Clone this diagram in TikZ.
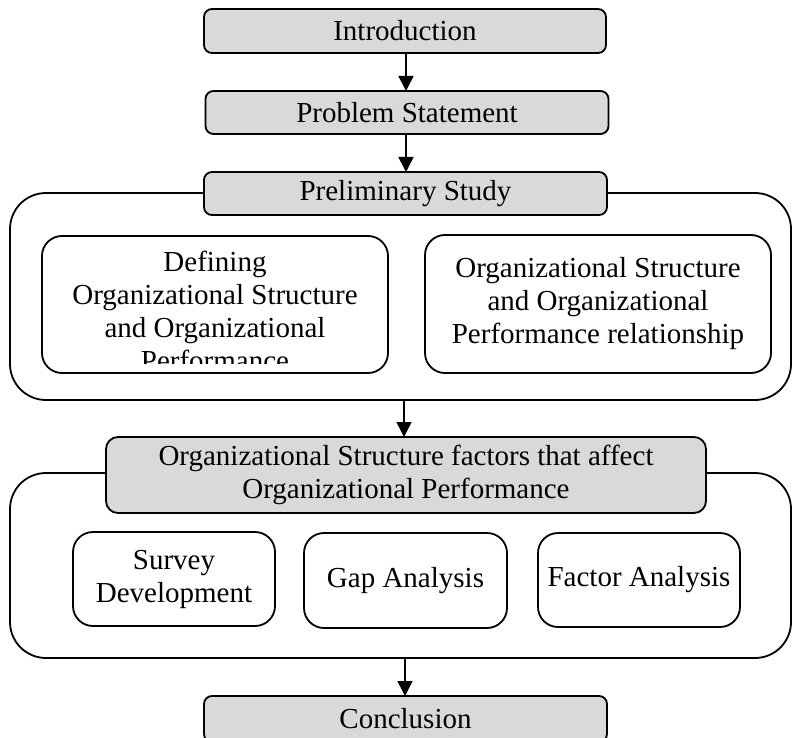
\documentclass[tikz,border=0pt]{standalone}
\usepackage{fontspec}
\setmainfont{Liberation Serif}
\usetikzlibrary{arrows.meta}
\definecolor{headgray}{RGB}{217,217,217}
\begin{document}
\begin{tikzpicture}[x=1pt,y=-1pt,
  every node/.style={inner sep=0pt,outer sep=0pt,font=\fontsize{29}{33}\selectfont,align=center},
  headbox/.style={draw,line width=1.8pt,fill=headgray,rounded corners=8pt},
  itembox/.style={draw,line width=1.8pt,fill=white,rounded corners=20pt},
  groupbox/.style={draw,line width=1.8pt,rounded corners=36pt},
  flow/.style={line width=1.6pt,-{Triangle[length=15pt,width=15pt]}}]
\clip (0,0) rectangle (792,738);
\useasboundingbox (0,0) rectangle (792,738);

% group frames
\node[groupbox,minimum width=781pt,minimum height=207pt] (grpA) at (400.5,296.5) {};
\node[groupbox,minimum width=781pt,minimum height=185pt] (grpB) at (400.5,565.5) {};

% main sequence
\node[headbox,minimum width=402pt,minimum height=44pt] (intro) at (405,31) {Introduction};
\node[headbox,minimum width=403pt,minimum height=43pt] (prob) at (407,112.5) {Problem Statement};
\node[headbox,minimum width=403pt,minimum height=43pt] (prelim) at (405.5,193.5) {Preliminary Study};

% preliminary study items
\node[itembox,minimum width=346pt,minimum height=137pt] (defn) at (215,304.5) {};
\begin{scope}
  \clip (44,238) rectangle (386,363);
  \node (defntext) at (215,311) {Defining\\Organizational Structure\\and Organizational\\Performance};
\end{scope}
\node[itembox,minimum width=346pt,minimum height=138pt] (rel) at (598,304)
  {Organizational Structure\\and Organizational\\Performance relationship};

% factors stage
\node[headbox,minimum width=600pt,minimum height=76pt,rounded corners=12pt] (factors) at (406,475)
  {Organizational Structure factors that affect\\Organizational Performance};
\node[itembox,minimum width=202pt,minimum height=94pt] (survey) at (174,579) {Survey\\Development};
\node[itembox,minimum width=203pt,minimum height=95pt] (gap) at (405.5,580.5) {Gap Analysis};
\node[itembox,minimum width=202pt,minimum height=94pt] (fact) at (639,580) {Factor Analysis};

\node[headbox,minimum width=403pt,minimum height=46pt] (concl) at (405.5,719) {Conclusion};

% connectors
\draw[flow] (intro.south -| 406,0) -- (prob.north -| 406,0);
\draw[flow] (prob.south -| 406,0) -- (prelim.north -| 406,0);
\draw[flow] (grpA.south -| 404,0) -- (factors.north -| 404,0);
\draw[flow] (grpB.south -| 405,0) -- (concl.north -| 405,0);
\end{tikzpicture}
\end{document}
